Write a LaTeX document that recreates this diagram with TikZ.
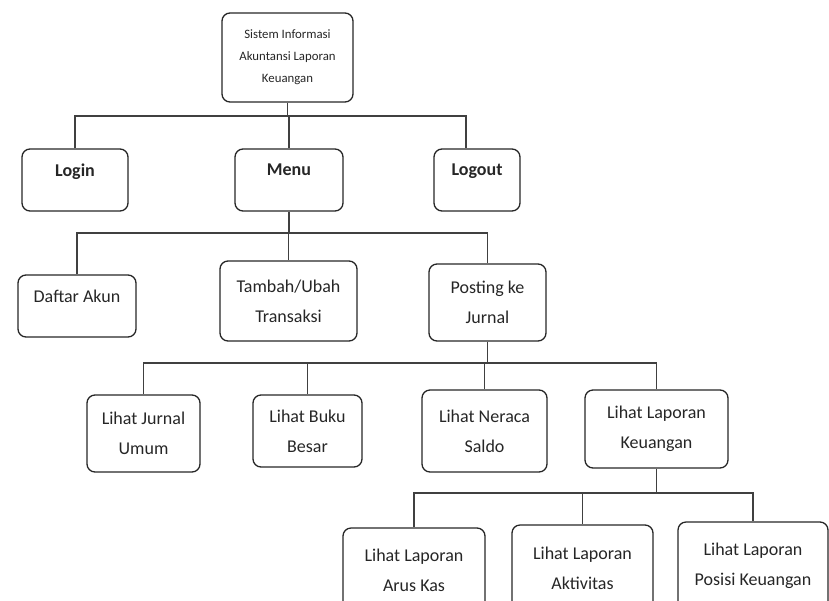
\documentclass[tikz,border=0pt]{standalone}
\usepackage{fontspec}
\setmainfont{Carlito}
\usepackage{tikz}
\usetikzlibrary{positioning}
\tikzset{
  menubox/.style={draw=black!85, line width=1.3pt, rounded corners=8pt, align=center,
                  text=black!85, inner sep=2pt, font=\fontsize{18}{30}\selectfont},
  onerow/.style={text depth=20pt},
  link/.style={draw=black!75, line width=1.2pt}
}

\begin{document}
\begin{tikzpicture}[x=1pt, y=-1pt]
  \useasboundingbox (0,0) rectangle (829,600);

  \node[menubox, minimum width=131pt, minimum height=89pt,
        font=\fontsize{12.8}{22}\selectfont] (root) at (287.5,57.5)
        {Sistem Informasi\\Akuntansi Laporan\\Keuangan};

  \node[menubox, onerow, minimum width=106pt, minimum height=62pt] (login) at (75,180) {\textbf{Login}};
  \node[menubox, onerow, minimum width=108pt, minimum height=62pt] (menu) at (289,180) {\textbf{Menu}};
  \node[menubox, onerow, minimum width=86pt, minimum height=62pt] (logout) at (477,180) {\textbf{Logout}};

  \node[menubox, onerow, minimum width=118pt, minimum height=62pt] (daftar) at (77,306) {Daftar Akun};
  \node[menubox, minimum width=137pt, minimum height=80pt] (tambah) at (288.5,301) {Tambah/Ubah\\Transaksi};
  \node[menubox, minimum width=117pt, minimum height=77pt] (posting) at (487.5,302.5) {Posting ke\\Jurnal};

  \node[menubox, minimum width=113pt, minimum height=77pt] (jumum) at (143.5,433.5) {Lihat Jurnal\\Umum};
  \node[menubox, minimum width=109pt, minimum height=72pt] (bbesar) at (307.5,431) {Lihat Buku\\Besar};
  \node[menubox, minimum width=125pt, minimum height=82pt] (neraca) at (484.5,431) {Lihat Neraca\\Saldo};
  \node[menubox, minimum width=143pt, minimum height=78pt] (lkeu) at (656.5,429) {Lihat Laporan\\Keuangan};

  \node[menubox, minimum width=142pt, minimum height=84pt] (aruskas) at (414,570) {Lihat Laporan\\Arus Kas};
  \node[menubox, minimum width=141pt, minimum height=86pt] (aktiv) at (582.5,568) {Lihat Laporan\\Aktivitas};
  \node[menubox, minimum width=150pt, minimum height=88pt] (posisi) at (753,566) {Lihat Laporan\\Posisi Keuangan};

  % level 1
  \coordinate (t1) at (288,116);
  \draw[link] (root.south) -- (root.south |- t1);
  \draw[link] (login.north) |- ([xshift=-11pt]logout.north |- t1) -- ([xshift=-11pt]logout.north);
  \draw[link] (menu.north |- t1) -- (menu.north);

  % level 2
  \coordinate (t2) at (0,233);
  \draw[link] (menu.south) -- (menu.south |- t2);
  \draw[link] (daftar.north) |- (posting.north |- t2) -- (posting.north);
  \draw[link] (tambah.north |- t2) -- (tambah.north);

  % level 3
  \coordinate (t3) at (0,363);
  \draw[link] (posting.south) -- (posting.south |- t3);
  \draw[link] (jumum.north) |- (lkeu.north |- t3) -- (lkeu.north);
  \draw[link] (bbesar.north |- t3) -- (bbesar.north);
  \draw[link] (neraca.north |- t3) -- (neraca.north);

  % level 4
  \coordinate (t4) at (0,493);
  \draw[link] (lkeu.south) -- (lkeu.south |- t4);
  \draw[link] (aruskas.north) |- (posisi.north |- t4) -- (posisi.north);
  \draw[link] (aktiv.north |- t4) -- (aktiv.north);
\end{tikzpicture}
\end{document}
